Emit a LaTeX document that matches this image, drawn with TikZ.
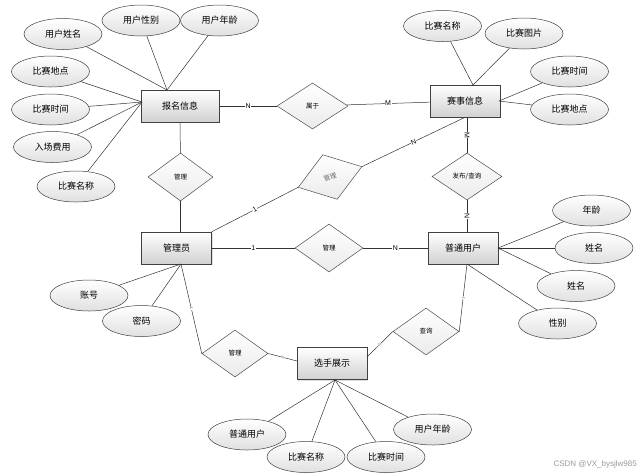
\documentclass[tikz,border=0pt]{standalone}
\usepackage{fontspec}
\setmainfont{Liberation Sans}
\newfontfamily\cjk{Noto Sans CJK SC}
\usetikzlibrary{shapes.geometric,shadows}
\begin{document}
\begin{tikzpicture}[x=1pt,y=-1pt,
 ent/.style={draw=black!75, line width=0.6pt, rectangle, minimum width=70pt, minimum height=32pt, inner sep=0pt, top color=white, bottom color=black!18, font=\cjk\fontsize{9}{9}\selectfont, drop shadow={shadow xshift=1pt, shadow yshift=-1pt, opacity=0.25}},
 attr/.style={draw=black!75, line width=0.5pt, ellipse, minimum width=78pt, minimum height=31pt, inner sep=0pt, top color=white, bottom color=black!12, font=\cjk\fontsize{9}{9}\selectfont},
 rel/.style={draw=black!70, line width=0.5pt, diamond, minimum width=66pt, minimum height=47pt, inner sep=0pt, top color=white, bottom color=black!8, font=\cjk\fontsize{6.5}{6.5}\selectfont},
 lnk/.style={draw=black!80, line width=0.5pt},
 lab/.style={fill=white, inner sep=0.5pt, font=\fontsize{7}{7}\selectfont},
 tinylab/.style={fill=white, inner sep=0.2pt, font=\fontsize{4}{4}\selectfont, text=black!60, sloped}
]
\useasboundingbox (0,0) rectangle (644,475);

% entities
\node[ent, minimum width=78pt] (bm) at (180,106) {报名信息};
\node[ent] (ss) at (465,101) {赛事信息};
\node[ent] (gly) at (176.5,248) {管理员};
\node[ent] (pt) at (463,248) {普通用户};
\node[ent] (xs) at (332,363.5) {选手展示};

% relations
\node[rel, minimum width=71pt, minimum height=46pt] (sy) at (312.5,106) {属于};
\node[rel, minimum width=65pt, minimum height=48pt] (gl1) at (180.5,177) {管理};
\node[rel, minimum width=67pt, minimum height=47pt, rotate=18, text=black!60] (gx) at (330,177) {管理};
\node[rel, minimum width=70pt, minimum height=47pt] (fb) at (467,176.5) {发布/查询};
\node[rel, minimum width=68pt, minimum height=48pt] (gl2) at (329,248) {管理};
\node[rel] (gl3) at (235,353.5) {管理};
\node[rel] (cx) at (426,331.5) {查询};

% attributes of 报名信息
\node[attr] (a1) at (63,34) {用户姓名};
\node[attr] (a2) at (141,20.5) {用户性别};
\node[attr] (a3) at (219.5,20.5) {用户年龄};
\node[attr] (a4) at (50.5,71.5) {比赛地点};
\node[attr] (a5) at (50.5,109.5) {比赛时间};
\node[attr] (a6) at (52.5,147) {入场费用};
\node[attr] (a7) at (76,186.5) {比赛名称};

% attributes of 赛事信息
\node[attr] (b1) at (442.5,26) {比赛名称};
\node[attr] (b2) at (524,33.5) {比赛图片};
\node[attr] (b3) at (569.5,71.5) {比赛时间};
\node[attr] (b4) at (569.5,109.5) {比赛地点};

% attributes of 普通用户
\node[attr] (c1) at (591.5,210.5) {年龄};
\node[attr] (c2) at (594,248) {姓名};
\node[attr] (c3) at (576,286) {姓名};
\node[attr] (c4) at (557.5,323.5) {性别};

% attributes of 管理员
\node[attr] (d1) at (89,295.5) {账号};
\node[attr] (d2) at (141.5,321) {密码};

% attributes of 选手展示
\node[attr] (f1) at (247,434.5) {普通用户};
\node[attr] (f2) at (306,457) {比赛名称};
\node[attr] (f3) at (386,457) {比赛时间};
\node[attr] (f4) at (432.5,429.5) {用户年龄};

% junction points
\coordinate (bmT) at (167,90);
\coordinate (bmL) at (142,102);
\coordinate (ssT) at (473,85);
\coordinate (ssR) at (499,101);
\coordinate (ptR) at (498,248);
\coordinate (ptB) at (467,264);
\coordinate (glyB) at (181,264);
\coordinate (xsB) at (335,380);
\coordinate (xsL) at (297,361);
\coordinate (xsR) at (367,357);

% attribute links
\foreach \t in {a1,a2,a3} \draw[lnk] (bmT) -- (\t);
\foreach \t in {a4,a5,a6,a7} \draw[lnk] (bmL) -- (\t);
\foreach \t in {b1,b2} \draw[lnk] (ssT) -- (\t);
\foreach \t in {b3,b4} \draw[lnk] (ssR) -- (\t);
\foreach \t in {c1,c2,c3} \draw[lnk] (ptR) -- (\t);
\draw[lnk] (ptB) -- (c4);
\foreach \t in {d1,d2} \draw[lnk] (glyB) -- (\t);
\foreach \t in {f1,f2,f3,f4} \draw[lnk] (xsB) -- (\t);

% relationship links
\draw[lnk] (bm) -- node[lab]{N} (sy);
\draw[lnk] (sy) -- node[lab]{M} (ss);
\draw[lnk] (bm) -- (gl1);
\draw[lnk] (gl1) -- (gl1 |- gly.north);
\draw[lnk] (gly.north east) -- node[lab, sloped]{1} (gx.west);
\draw[lnk] (gx.east) -- node[lab, sloped]{N} (ss.south);
\draw[lnk] (fb |- ss.south) -- node[lab, sloped]{M} (fb);
\draw[lnk] (fb) -- node[lab, sloped]{N} (fb |- pt.north);
\draw[lnk] (gly) -- node[lab]{1} (gl2);
\draw[lnk] (gl2) -- node[lab]{N} (pt);
\draw[lnk] (glyB) -- node[tinylab]{1} (gl3.west);
\draw[lnk] (gl3.east) -- node[tinylab]{N} (xsL);
\draw[lnk] (ptB) -- node[tinylab]{1} (cx.east);
\draw[lnk] (cx.west) -- node[tinylab]{N} (xsR);

% watermark
\node[font=\fontsize{8}{8}\selectfont, text=black!40, anchor=east, inner sep=0pt] (wm) at (637,464) {CSDN @VX\_bysjlw985};
\end{tikzpicture}
\end{document}
